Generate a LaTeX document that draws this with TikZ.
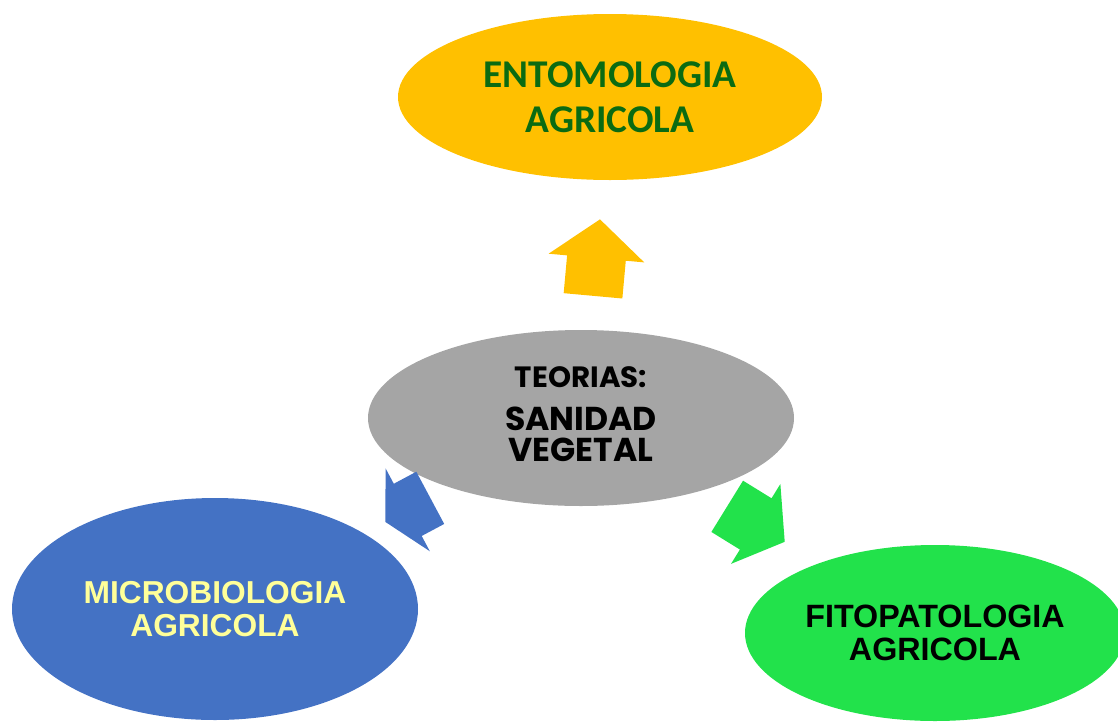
\documentclass[tikz,border=0pt]{standalone}
\usepackage{fontspec}
\setmainfont{Liberation Sans}
\newfontfamily\calfont{Carlito}
\newfontfamily\geofont{Poppins}
\usetikzlibrary{shapes.geometric,shapes.arrows}
\definecolor{entoamber}{HTML}{FFC000}
\definecolor{teorgray}{HTML}{A5A5A5}
\definecolor{microblue}{HTML}{4472C4}
\definecolor{fitogreen}{HTML}{22E24B}
\definecolor{leafgreen}{HTML}{0B6B12}
\definecolor{paleyellow}{HTML}{FFFF99}
\tikzset{bubble/.style={ellipse,inner sep=0pt,align=center},
  blockarrow/.style={single arrow,anchor=tip,inner xsep=0pt,inner ysep=22pt}}

\begin{document}
\begin{tikzpicture}[x=0.75pt,y=-0.75pt]
  \useasboundingbox (0,0) rectangle (1118,722);
  % the four areas
  \node[bubble,fill=entoamber,minimum width=318pt,minimum height=124.5pt,
    text=leafgreen,font=\calfont\bfseries\fontsize{29.5}{33.75}\selectfont]
    (ento) at (610,97) {ENTOMOLOGIA\\AGRICOLA};
  \node[bubble,fill=teorgray,minimum width=319.5pt,minimum height=132pt,
    text depth=6pt,font=\geofont\bfseries\fontsize{24.8}{23}\selectfont]
    (teor) at (581,418) {{\fontsize{22}{23}\selectfont TEORIAS:}\\[9pt]SANIDAD\\VEGETAL};
  \node[bubble,fill=microblue,minimum width=304.5pt,minimum height=166.5pt,
    text=paleyellow,font=\bfseries\fontsize{23.8}{24.75}\selectfont]
    (micro) at (215,609) {MICROBIOLOGIA\\AGRICOLA};
  \node[bubble,fill=fitogreen,minimum width=285pt,minimum height=132pt,
    font=\bfseries\fontsize{24.2}{24.75}\selectfont]
    (fito) at (935,633) {FITOPATOLOGIA\\AGRICOLA};
  % block arrows out of the centre
  \node[blockarrow,fill=entoamber,rotate=84.8,minimum height=57.6pt,
    inner ysep=21.9pt,single arrow head extend=13.9pt,
    single arrow tip angle=102] (toento) at (600,219) {};
  \node[blockarrow,fill=microblue,rotate=208.1,minimum height=38.25pt,
    inner ysep=22pt,single arrow head extend=13pt,single arrow tip angle=123]
    (tomicro) at (385,522) {};
  \node[blockarrow,fill=fitogreen,rotate=-31.7,minimum height=50.7pt,
    inner ysep=22.4pt,single arrow head extend=12.6pt,single arrow tip angle=108]
    (tofito) at (785,542) {};
\end{tikzpicture}
\end{document}
